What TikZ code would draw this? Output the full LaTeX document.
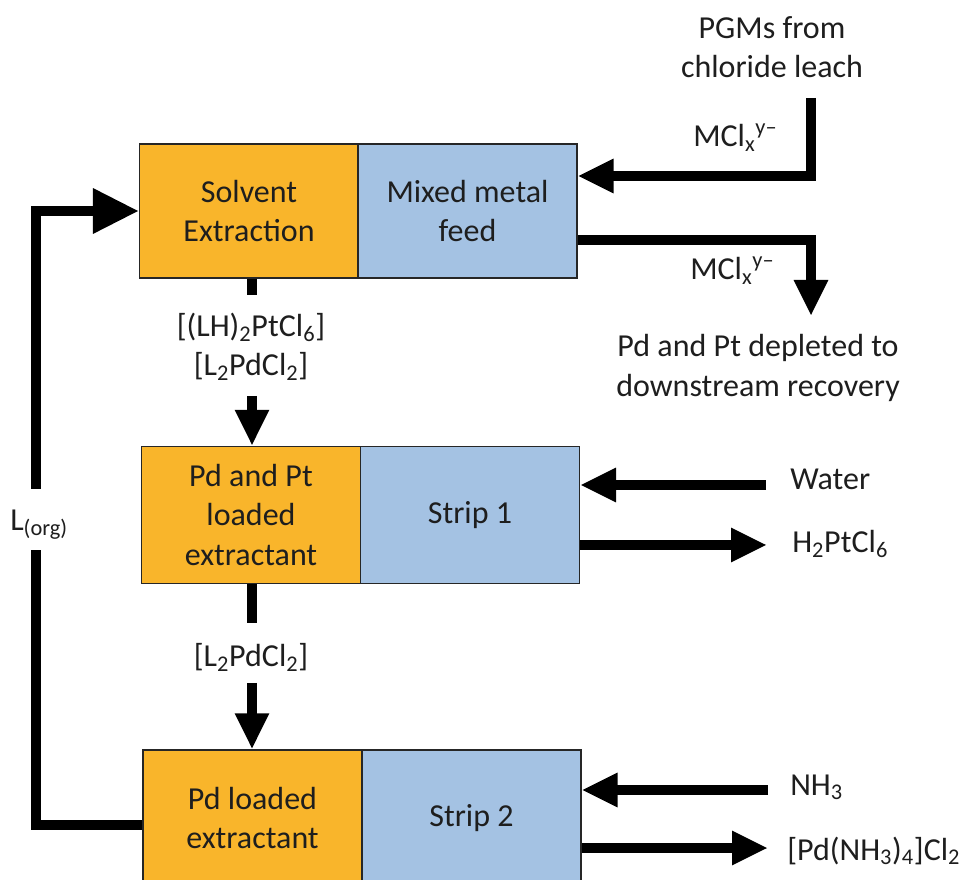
\documentclass[tikz,border=0pt]{standalone}
\usepackage{fontspec}
\setmainfont{Carlito}
\usetikzlibrary{arrows.meta}
\definecolor{orng}{RGB}{249,181,43}
\definecolor{blu}{RGB}{164,194,227}
\definecolor{txt}{RGB}{30,30,30}
\begin{document}
\begin{tikzpicture}[x=0.75pt,y=-0.75pt,
  every node/.style={font=\fontsize{24}{29.5}\selectfont, text=txt, inner sep=0pt},
  unitbox/.style={draw=black!85, line width=1.1pt, minimum width=164pt, align=center},
  orgbox/.style={unitbox, fill=orng},
  aqbox/.style={unitbox, fill=blu},
  flow/.style={line width=7.9pt, draw=black},
  flowarrow/.style={flow, -{Triangle[length=27pt,width=24pt]}},
  bigflowarrow/.style={flow, -{Triangle[length=34.5pt,width=32pt]}},
  lbl/.style={anchor=base west},
  clbl/.style={anchor=base}
]
\useasboundingbox (0,0) rectangle (965,880);
\fill[white] (0,0) rectangle (965,880);
\clip (0,0) rectangle (965,880);

% unit boxes
\node[orgbox, minimum height=100.5pt] (o1) at (249,211) {Solvent\\Extraction};
\node[aqbox,  minimum height=100.5pt] (b1) at (467.5,211) {Mixed metal\\feed};
\node[orgbox, minimum height=102.75pt] (o2) at (251,515) {Pd and Pt\\loaded\\extractant};
\node[aqbox,  minimum height=102.75pt] (b2) at (470,515) {Strip 1};
\node[orgbox, minimum height=102pt] (o3) at (252.5,818) {Pd loaded\\extractant};
\node[aqbox,  minimum height=102pt] (b3) at (471.5,818) {Strip 2};

% labels
\node[align=center] (pgm) at (772,47) {PGMs from\\chloride leach};
\node[lbl] (mcl1) at (693,147) {MCl\textsubscript{x}\textsuperscript{y–}};
\node[lbl] (mcl2) at (690,280) {MCl\textsubscript{x}\textsuperscript{y–}};
\node[align=center] (dep) at (758,368) {Pd and Pt depleted to\\downstream recovery};
\node[align=center] (ext1) at (251,347) {[(LH)\textsubscript{2}PtCl\textsubscript{6}]\\{[}L\textsubscript{2}PdCl\textsubscript{2}]};
\node[clbl] (ext2) at (251,667) {[L\textsubscript{2}PdCl\textsubscript{2}]};
\node[lbl] (water) at (790,490) {Water};
\node[lbl] (hpt) at (792,553) {H\textsubscript{2}PtCl\textsubscript{6}};
\node[lbl] (nh3) at (790,795) {NH\textsubscript{3}};
\node[lbl] (pdam) at (787,860) {[Pd(NH\textsubscript{3})\textsubscript{4}]Cl\textsubscript{2}};
\node[lbl] (lorg) at (10,531) {L\textsubscript{(org)}};

% feed in / raffinate out
\coordinate (feedtop) at (811,98);
\coordinate (feedcorner) at (811,176);
\draw[flowarrow] (feedtop) -- (feedcorner) -- (b1.east |- feedcorner);
\coordinate (depcorner) at (811,240);
\coordinate (depend) at (811,316);
\draw[flowarrow] (b1.east |- depcorner) -- (depcorner) -- (depend);

% box to box
\coordinate (s1) at (252,295);
\coordinate (a1) at (252,396);
\draw[flow] (o1.south -| s1) -- (s1);
\draw[flowarrow] (a1) -- (o2.north -| a1);
\coordinate (s2) at (252,623);
\coordinate (a2) at (252,683);
\draw[flow] (o2.south -| s2) -- (s2);
\draw[flowarrow] (a2) -- (o3.north -| a2);

% strip 1
\coordinate (win) at (766,485);
\draw[flowarrow] (win) -- (b2.east |- win);
\coordinate (hout) at (767,545);
\draw[flowarrow] (b2.east |- hout) -- (hout);

% strip 2
\coordinate (nin) at (768,790);
\draw[flowarrow] (nin) -- (b3.east |- nin);
\coordinate (pout) at (768,848);
\draw[flowarrow] (b3.east |- pout) -- (pout);

% organic recycle
\coordinate (lgap1) at (36,489);
\coordinate (ltop) at (36,211);
\draw[bigflowarrow] (lgap1) -- (ltop) -- (o1.west |- ltop);
\coordinate (lgap2) at (36,550);
\coordinate (lbot) at (36,825);
\draw[flow] (o3.west |- lbot) -- (lbot) -- (lgap2);
\end{tikzpicture}
\end{document}
